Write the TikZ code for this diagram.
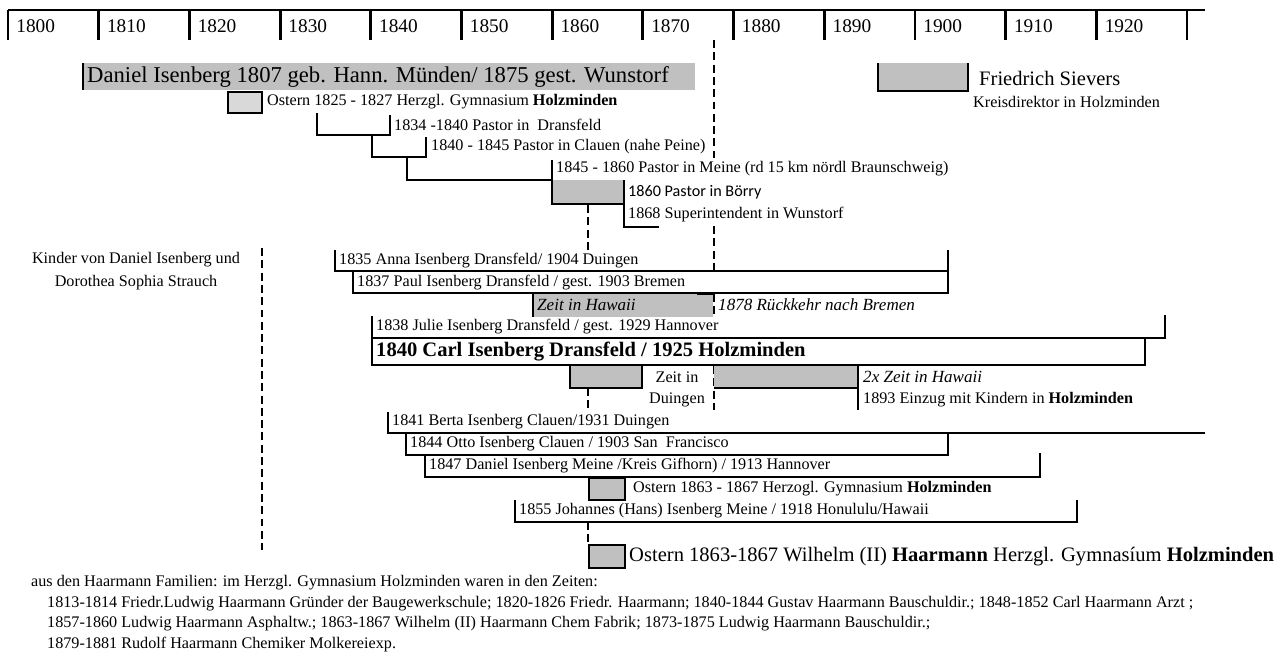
\documentclass[tikz,border=0pt]{standalone}
\usepackage{fontspec}
\setmainfont{Liberation Serif}
\newfontfamily\calibfont{Carlito}
\definecolor{barcol}{RGB}{192,192,192}
\definecolor{lightbar}{RGB}{217,217,217}
\newcommand{\smallsize}{\fontsize{9.2}{11}\selectfont}
\newcommand{\itsize}{\fontsize{9.7}{11.6}\selectfont\itshape}
\newcommand{\midsize}{\fontsize{11.7}{14}\selectfont}
\newcommand{\bigsize}{\fontsize{12.9}{15.5}\selectfont}
\begin{document}
\begin{tikzpicture}[x=0.02cm,y=-0.02cm,
    thick line/.style={line width=1.6pt},
    rowline/.style={line width=1.1pt},
    dashline/.style={line width=1.6pt,dash pattern=on 4.5pt off 2.5pt},
    txt/.style={anchor=west,inner xsep=0.5pt,inner ysep=0.6pt,font=\smallsize},
    yr/.style={anchor=west,inner sep=0pt,font=\fontsize{11}{13}\selectfont}]
    \useasboundingbox (0,0) rectangle (1279,654);
    \draw[thick line] (8,10) -- (1205,10);
    \foreach \y [count=\k from 0] in {1800,1810,...,1920}{
        \draw[thick line] (8+90.7*\k,10) -- (8+90.7*\k,40);
        \node[yr] (y\y) at (16+90.7*\k,26) {\y};
    }
    \draw[thick line] (1187,10) -- (1187,40);
    \foreach \x/\a/\b in {714/40/158, 714/226/271, 714/294/317, 714/366/410,
                          588/205/253, 588/388/412, 588/522/545, 262/248/550}
        \draw[dashline] (\x,\a) -- (\x,\b);

    \fill[barcol] (83,63) rectangle (695,90);
    \draw[thick line] (83,63) -- (83,90);
    \node[txt,font=\bigsize] (daniel) at (86,77) {Daniel Isenberg 1807 geb. Hann. Münden/ 1875 gest. Wunstorf};
    \draw[rowline,fill=lightbar] (228,92) rectangle (262,113);
    \node[txt] (ostern25) at (266,102) {Ostern 1825 - 1827 Herzgl. Gymnasium \textbf{Holzminden}};
    \fill[barcol] (878,63) rectangle (968,91);
    \draw[rowline] (878,63) -- (878,91) -- (968,91) -- (968,63);
    \node[txt,font=\midsize] (sievers) at (978,78) {Friedrich Sievers};
    \node[txt] (kreis) at (972,102) {Kreisdirektor in Holzminden};

    \draw[rowline] (317,113) -- (317,135) -- (390,135) -- (390,115);
    \node[txt] (dransfeld) at (393,125) {1834 -1840 Pastor in\ \ Dransfeld};
    \draw[rowline] (372,135) -- (372,157) -- (426,157) -- (426,137);
    \node[txt] (clauen) at (430,147) {1840 - 1845 Pastor in Clauen (nahe Peine)};
    \draw[rowline] (407,157) -- (407,180) -- (552,180) -- (552,160);
    \node[txt] (meine) at (555,169) {1845 - 1860 Pastor in Meine (rd 15 km nördl Braunschweig)};
    \fill[barcol] (552,180) rectangle (624,204);
    \draw[rowline] (552,180) -- (552,204) -- (624,204);
    \draw[rowline] (624,180) -- (624,227) -- (659,227);
    \node[txt,font=\calibfont\smallsize] (boerry) at (627,192) {1860 Pastor in Börry};
    \node[txt] (wunstorf) at (627,215) {1868 Superintendent in Wunstorf};

    \node[font=\smallsize,inner sep=0.5pt] (kinder1) at (136,260) {Kinder von Daniel Isenberg und};
    \node[font=\smallsize,inner sep=0.5pt] (kinder2) at (136,283) {Dorothea Sophia Strauch};

    \draw[rowline] (335,250) -- (335,271) -- (948,271) -- (948,250);
    \node[txt] (anna) at (338,261) {1835 Anna Isenberg Dransfeld/ 1904 Duingen};
    \draw[rowline] (353,271) -- (353,293) -- (948,293) -- (948,271);
    \node[txt] (paul) at (356,283) {1837 Paul Isenberg Dransfeld / gest. 1903 Bremen};
    \fill[barcol] (533,294) rectangle (713,317);
    \draw[rowline] (533,294) -- (533,317);
    \draw[thick line] (697,294) -- (714,294);
    \node[txt,font=\itsize] (hawaii) at (536,305) {Zeit in Hawaii};
    \node[txt,font=\itsize] (rueckkehr) at (717,305) {1878 Rückkehr nach Bremen};
    \draw[rowline] (372,316) -- (372,338) -- (1165,338) -- (1165,315);
    \node[txt] (julie) at (375,327) {1838 Julie Isenberg Dransfeld / gest. 1929 Hannover};
    \draw[rowline] (372,338) -- (372,365) -- (1145,365) -- (1145,338);
    \node[txt,font=\midsize\bfseries] (carl) at (375,352) {1840 Carl Isenberg Dransfeld / 1925 Holzminden};

    \fill[barcol] (570,366) rectangle (642,388);
    \draw[rowline] (570,366) -- (570,388) -- (642,388) -- (642,366);
    \node[font=\smallsize,inner sep=0.5pt] (zeitin) at (677,377) {Zeit in};
    \node[font=\smallsize,inner sep=0.5pt] (duingen) at (677,400) {Duingen};
    \fill[barcol] (714,366) rectangle (858,388);
    \draw[rowline] (714,388) -- (858,388);
    \draw[rowline] (858,366) -- (858,410);
    \node[txt,font=\itsize] (hawaii2) at (862,377) {2x Zeit in Hawaii};
    \node[txt] (einzug) at (862,400) {1893 Einzug mit Kindern in \textbf{Holzminden}};

    \draw[rowline] (388,412) -- (388,433) -- (1205,433);
    \node[txt] (berta) at (391,422) {1841 Berta Isenberg Clauen/1931 Duingen};
    \draw[rowline] (406,433) -- (406,455) -- (948,455) -- (948,433);
    \node[txt] (otto) at (409,444) {1844 Otto Isenberg Clauen / 1903 San\ \ Francisco};
    \draw[rowline] (425,455) -- (425,477) -- (1040,477) -- (1040,453);
    \node[txt] (danieljr) at (428,466) {1847 Daniel Isenberg Meine /Kreis Gifhorn) / 1913 Hannover};
    \draw[rowline,fill=barcol] (589,478) rectangle (625,500);
    \node[txt] (ostern63) at (632,489) {Ostern 1863 - 1867 Herzogl. Gymnasium \textbf{Holzminden}};
    \draw[rowline] (515,500) -- (515,522) -- (1077,522) -- (1077,500);
    \node[txt] (johannes) at (518,511) {1855 Johannes (Hans) Isenberg Meine / 1918 Honululu/Hawaii};
    \draw[rowline,fill=barcol] (589,545) rectangle (625,568);
    \node[txt,font=\midsize] (wilhelm) at (628,557) {Ostern 1863-1867 Wilhelm (II) \textbf{Haarmann} Herzgl. Gymnasíum \textbf{Holzminden}};

    \node[txt] (aus) at (30,583) {aus den Haarmann Familien: im Herzgl. Gymnasium Holzminden waren in den Zeiten:};
    \node[txt] (hl1) at (46,604) {1813-1814 Friedr.Ludwig Haarmann Gründer der Baugewerkschule; 1820-1826 Friedr. Haarmann; 1840-1844 Gustav Haarmann Bauschuldir.; 1848-1852 Carl Haarmann Arzt ;};
    \node[txt] (hl2) at (46,624) {1857-1860 Ludwig Haarmann Asphaltw.; 1863-1867 Wilhelm (II) Haarmann Chem Fabrik; 1873-1875 Ludwig Haarmann Bauschuldir.;};
    \node[txt] (hl3) at (46,645) {1879-1881 Rudolf Haarmann Chemiker Molkereiexp.};
\end{tikzpicture}
\end{document}
